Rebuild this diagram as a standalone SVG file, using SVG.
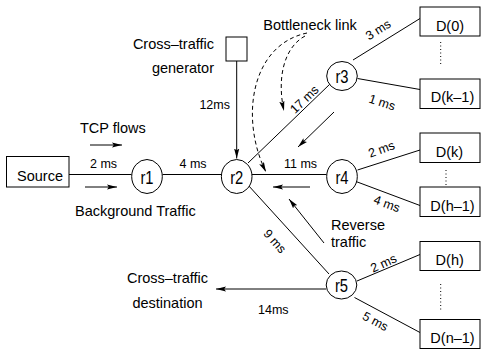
<svg xmlns="http://www.w3.org/2000/svg" width="482" height="352" viewBox="0 0 482 352">
<style>
text{font-family:"Liberation Sans",Arial,sans-serif;fill:#000}
.t{font-size:14.5px}
.s{font-size:12.5px}
.c{text-anchor:middle}
.e{text-anchor:end}
.n{font-size:18px;text-anchor:middle}
.ln{stroke:#000;stroke-width:1;fill:none}
.box{fill:#fff;stroke:#000;stroke-width:1}
.dash{stroke:#000;stroke-width:1;fill:none;stroke-dasharray:4,3}
.dots{stroke:#000;stroke-width:1;stroke-dasharray:1,2.5;fill:none}
</style>
<defs>
<marker id="ah" markerUnits="userSpaceOnUse" viewBox="0 0 10 6" markerWidth="10" markerHeight="6" refX="10" refY="3" orient="auto">
<path d="M0,0.4 L10,3 L0,5.6 L1.8,3 Z" fill="#000"/>
</marker>
</defs>
<g id="connectors">
<line class="ln" x1="69" y1="174.5" x2="131.5" y2="174.5"/>
<line class="ln" x1="162.5" y1="174.5" x2="221.5" y2="174.5"/>
<line class="ln" x1="252" y1="174.5" x2="326.5" y2="174.5"/>
<line class="ln" x1="236.7" y1="61" x2="236.7" y2="158.5" marker-end="url(#ah)"/>
<line class="ln" x1="248" y1="163" x2="330" y2="84"/>
<line class="ln" x1="353" y1="60" x2="420" y2="18.5"/>
<line class="ln" x1="357.5" y1="78.5" x2="420" y2="89.5"/>
<line class="ln" x1="357.5" y1="170" x2="420" y2="150"/>
<line class="ln" x1="356" y1="181.5" x2="420" y2="205.5"/>
<line class="ln" x1="248" y1="185" x2="329" y2="274"/>
<line class="ln" x1="357" y1="281" x2="420" y2="254.5"/>
<line class="ln" x1="354.5" y1="297.5" x2="420" y2="332.5"/>
<line class="ln" x1="326" y1="289" x2="216" y2="289" marker-end="url(#ah)"/>
<line class="ln" x1="90" y1="145" x2="122" y2="145" marker-end="url(#ah)"/>
<line class="ln" x1="85" y1="187" x2="117" y2="187" marker-end="url(#ah)"/>
<line class="ln" x1="310" y1="187" x2="273" y2="187" marker-end="url(#ah)"/>
<line class="ln" x1="324" y1="243" x2="289" y2="199" marker-end="url(#ah)"/>
<line class="ln" x1="334" y1="112" x2="298" y2="147" marker-end="url(#ah)"/>
<path class="dash" d="M307,33 C250,45 240,120 266,172" marker-end="url(#ah)"/>
<path class="dash" d="M305,36 C283,48 277,80 284,111" marker-end="url(#ah)"/>
<line class="dots" x1="440.7" y1="42" x2="440.7" y2="66"/>
<line class="dots" x1="446" y1="170" x2="446" y2="186"/>
<line class="dots" x1="440.7" y1="284" x2="440.7" y2="312"/>
</g>
<g id="source"><rect class="box" x="6.5" y="156.5" width="62.5" height="30.5"/><text class="t c" x="40" y="180.5">Source</text></g>
<g id="generator"><rect class="box" x="226" y="37" width="21" height="24"/></g>
<g id="r1"><ellipse class="box" cx="147" cy="176.5" rx="15.3" ry="17"/><text class="n" transform="translate(147,183.5) scale(0.82,1)">r1</text></g>
<g id="r2"><ellipse class="box" cx="236.7" cy="176.5" rx="15.3" ry="17"/><text class="n" transform="translate(236.7,183.5) scale(0.82,1)">r2</text></g>
<g id="r3"><ellipse class="box" cx="342" cy="76" rx="15.3" ry="14.5"/><text class="n" transform="translate(342,83) scale(0.82,1)">r3</text></g>
<g id="r4"><ellipse class="box" cx="342" cy="176.5" rx="15.3" ry="17"/><text class="n" transform="translate(342,183.5) scale(0.82,1)">r4</text></g>
<g id="r5"><ellipse class="box" cx="341.5" cy="285" rx="15.3" ry="14"/><text class="n" transform="translate(341.5,292) scale(0.82,1)">r5</text></g>
<g id="d0"><rect class="box" x="420" y="7" width="60" height="29"/><text class="t c" x="450" y="30.5">D(0)</text></g>
<g id="dk1"><rect class="box" x="420" y="79" width="60" height="29.5"/><text class="t c" x="452.5" y="102">D(k–1)</text></g>
<g id="dk"><rect class="box" x="420" y="133" width="60" height="29.5"/><text class="t c" x="449.5" y="157">D(k)</text></g>
<g id="dh1"><rect class="box" x="420" y="187" width="60" height="29.5"/><text class="t c" x="452.5" y="210.5">D(h–1)</text></g>
<g id="dh"><rect class="box" x="420" y="241.5" width="60" height="29"/><text class="t c" x="449.7" y="265">D(h)</text></g>
<g id="dn1"><rect class="box" x="420" y="319.5" width="60" height="29"/><text class="t c" x="452.5" y="342.5">D(n–1)</text></g>
<g id="labels">
<text class="t e" x="214" y="49">Cross–traffic</text>
<text class="t e" x="214" y="72.5">generator</text>
<text class="s e" x="230" y="109">12ms</text>
<text class="t" x="80" y="133">TCP flows</text>
<text class="s c" x="103.5" y="168">2 ms</text>
<text class="s c" x="193" y="168">4 ms</text>
<text class="s c" x="300.5" y="168">11 ms</text>
<text class="t" x="75" y="216">Background Traffic</text>
<text class="t c" x="167.5" y="282.5">Cross–traffic</text>
<text class="t c" x="167.5" y="307.5">destination</text>
<text class="s c" x="273.3" y="314">14ms</text>
<text class="t" x="331" y="230">Reverse</text>
<text class="t" x="331" y="246.5">traffic</text>
<text class="t c" x="310" y="30">Bottleneck link</text>
<text class="s c" transform="translate(307.3,102.5) rotate(-44)">17 ms</text>
<text class="s c" transform="translate(380.4,33.3) rotate(-32)">3 ms</text>
<text class="s c" transform="translate(380.8,106.4) rotate(18)">1 ms</text>
<text class="s c" transform="translate(383,153.2) rotate(-20)">2 ms</text>
<text class="s c" transform="translate(385.5,207.7) rotate(20)">4 ms</text>
<text class="s c" transform="translate(385.4,267.1) rotate(-25)">2 ms</text>
<text class="s c" transform="translate(373.4,325) rotate(28)">5 ms</text>
<text class="s c" transform="translate(271.7,244) rotate(48)">9 ms</text>
</g>
</svg>
